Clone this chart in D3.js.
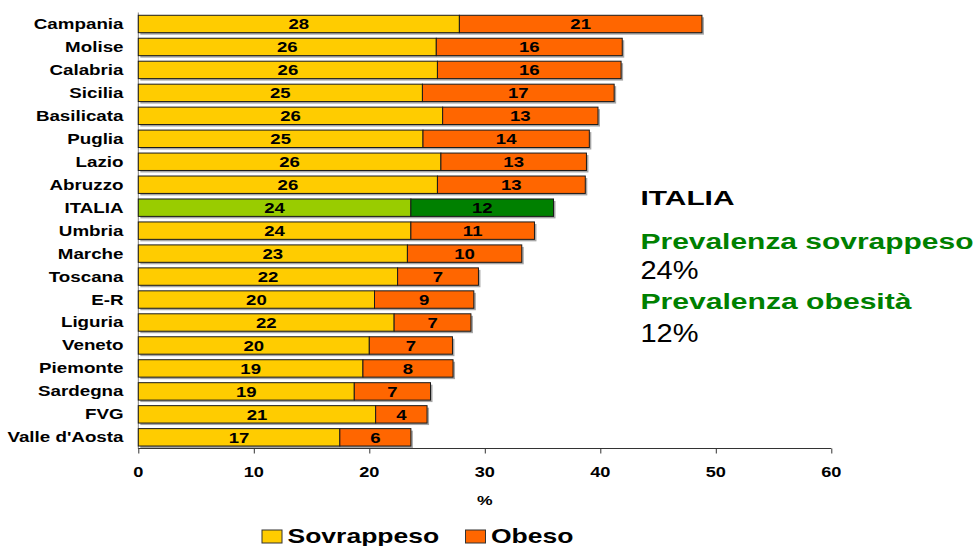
<!DOCTYPE html>
<html><head><meta charset="utf-8">
<script src="https://cdn.jsdelivr.net/npm/d3@7"></script>
<style>body{margin:0;background:#fff}svg{display:block}text{font-family:"Liberation Sans",Arial,sans-serif}</style>
</head><body>
<svg id="c" width="979" height="546"></svg>
<script>
const categories = ["Campania","Molise","Calabria","Sicilia","Basilicata","Puglia","Lazio","Abruzzo","ITALIA","Umbria","Marche","Toscana","E-R","Liguria","Veneto","Piemonte","Sardegna","FVG","Valle d'Aosta"];
const sovrappeso = [27.8,25.8,25.9,24.6,26.35,24.65,26.2,25.9,23.6,23.6,23.3,22.45,20.45,22.15,20.0,19.45,18.7,20.55,17.45];
const obeso = [21.0,16.1,15.9,16.6,13.45,14.4,12.6,12.8,12.35,10.7,9.9,7.0,8.6,6.65,7.2,7.8,6.6,4.45,6.15];
const xTicks = [0,10,20,30,40,50,60];
const seriesNames = ["Sovrappeso","Obeso"];
const colors = {Sovrappeso:"#FFCC00", Obeso:"#FF6600", ItaliaS:"#99CC00", ItaliaO:"#008000"};
const infoTitle = "ITALIA";
const infoLines = [["Prevalenza sovrappeso","24%"],["Prevalenza obesità","12%"]];

const svg = d3.select("#c");
const x = d3.scaleLinear().domain([0,60]).range([138.3,831.3]);
const y = d3.scaleBand().domain(categories).range([12.5,448.8]).paddingInner(0.242).paddingOuter(0.121);
const fmt = v => d3.format(".0f")(v);

function stext(g, str, px, py, size, sx, opts={}) {
  return g.append("text")
    .attr("transform", `translate(${px},${py}) scale(${sx},1)`)
    .attr("font-size", size)
    .attr("font-weight", opts.weight || "bold")
    .attr("fill", opts.fill || "#000")
    .attr("text-anchor", opts.anchor || "start")
    .attr("dy", opts.dy || 0)
    .text(str);
}

const data = categories.map((c,i)=>({c, s:sovrappeso[i], o:obeso[i], it: c==="ITALIA"}));

// shadows
svg.append("g").selectAll("rect").data(data).join("rect")
  .attr("x", d=>x(0)+2).attr("y", d=>y(d.c)+2)
  .attr("width", d=>x(d.s+d.o)-x(0)).attr("height", y.bandwidth())
  .attr("fill","#a6a6a6");

// y axis line
svg.append("line").attr("x1",x(0)).attr("x2",x(0)).attr("y1",y.range()[0]).attr("y2",449)
  .attr("stroke","#7f7f7f").attr("stroke-width",1);

const bars = svg.append("g");
bars.selectAll("rect.s").data(data).join("rect").attr("class","s")
  .attr("x", x(0)).attr("y", d=>y(d.c))
  .attr("width", d=>x(d.s)-x(0)).attr("height", y.bandwidth())
  .attr("fill", d=>d.it?colors.ItaliaS:colors.Sovrappeso).attr("stroke","#1a1a1a").attr("stroke-width",1);
bars.selectAll("rect.o").data(data).join("rect").attr("class","o")
  .attr("x", d=>x(d.s)).attr("y", d=>y(d.c))
  .attr("width", d=>x(d.s+d.o)-x(d.s)).attr("height", y.bandwidth())
  .attr("fill", d=>d.it?colors.ItaliaO:colors.Obeso).attr("stroke","#1a1a1a").attr("stroke-width",1);

// value labels
const lab = svg.append("g");
data.forEach(d=>{
  const cy = y(d.c)+y.bandwidth()/2;
  stext(lab, fmt(d.s), (x(0)+x(d.s))/2, cy, 14.5, 1.28, {anchor:"middle", dy:"0.36em"});
  stext(lab, fmt(d.o), (x(d.s)+x(d.s+d.o))/2, cy, 14.5, 1.28, {anchor:"middle", dy:"0.36em"});
  stext(lab, d.c, 123.5, cy, 13.8, 1.36, {anchor:"end", dy:"0.36em"});
});

// x axis
const xa = svg.append("g").attr("transform","translate(0,448.5)")
  .call(d3.axisBottom(x).tickValues(xTicks).tickSize(5).tickFormat(""));
xa.select(".domain").attr("stroke","#333").attr("d",`M${x(0)},0H${x(60)}`);
xa.selectAll(".tick line").attr("stroke","#333");
xTicks.forEach(t=>stext(svg, String(t), x(t), 476.5, 14, 1.3, {anchor:"middle"}));
stext(svg, "%", x(30), 505, 13.5, 1.3, {anchor:"middle"});

// legend
const leg = svg.append("g");
[[262,seriesNames[0],287.5,colors.Sovrappeso],[465.5,seriesNames[1],491,colors.Obeso]].forEach(([sx0,name,tx,col])=>{
  leg.append("rect").attr("x",sx0).attr("y",530).attr("width",20).attr("height",13)
    .attr("fill",col).attr("stroke","#333").attr("stroke-width",1);
  stext(leg, name, tx, 543.3, 19.5, 1.36);
});

// info text
svg.append("text").attr("x",640.5).attr("y",205).attr("font-size",21).attr("font-weight","bold")
  .attr("textLength",94).attr("lengthAdjust","spacingAndGlyphs").text(infoTitle);
const infoPos = [[249.3,333,279,58],[309,271,341.7,58]];
infoLines.forEach(([h,v],i)=>{
  const [hy,hw,vy,vw] = infoPos[i];
  svg.append("text").attr("x",640.5).attr("y",hy).attr("font-size",22).attr("font-weight","bold")
    .attr("fill","#008000").attr("textLength",hw).attr("lengthAdjust","spacingAndGlyphs").text(h);
  svg.append("text").attr("x",640.5).attr("y",vy).attr("font-size",25)
    .attr("fill","#000").attr("textLength",vw).attr("lengthAdjust","spacingAndGlyphs").text(v);
});
</script>
</body></html>
